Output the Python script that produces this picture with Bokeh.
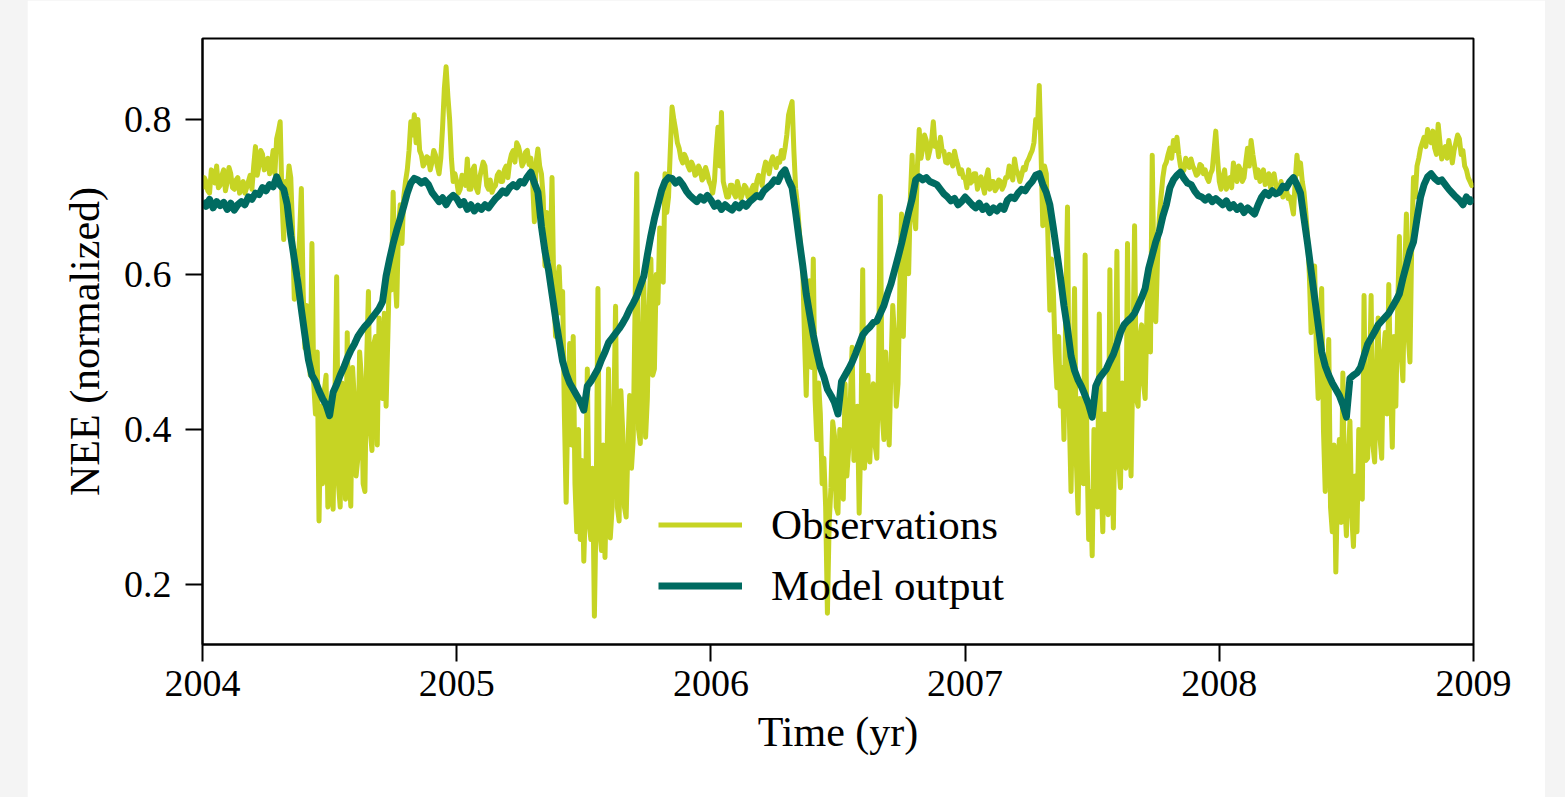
import numpy as np
from bokeh.plotting import figure
from bokeh.models import FixedTicker, Range1d
from bokeh.embed import file_html
from bokeh.resources import INLINE

# ---------------- data ----------------
year_ticks = [2004, 2005, 2006, 2007, 2008, 2009]
year_labels = ["2004", "2005", "2006", "2007", "2008", "2009"]
nee_ticks = [0.2, 0.4, 0.6, 0.8]
nee_labels = ["0.2", "0.4", "0.6", "0.8"]

obs_per_year = 144    # observation samples per year (~2.5 days)
model_per_year = 72   # model samples per year (~5 days)

obs_2004 = [0.71, 0.725, 0.72, 0.708, 0.705, 0.735, 0.73, 0.718, 0.74, 0.712, 0.715, 0.728,
            0.735, 0.708, 0.72, 0.738, 0.73, 0.712, 0.71, 0.722, 0.725, 0.705, 0.715, 0.72,
            0.705, 0.712, 0.72, 0.728, 0.71, 0.74, 0.765, 0.728, 0.74, 0.76, 0.755, 0.735,
            0.745, 0.75, 0.73, 0.742, 0.76, 0.73, 0.775, 0.785, 0.797, 0.70, 0.645, 0.72,
            0.705, 0.74, 0.725, 0.66, 0.568, 0.63, 0.60, 0.65, 0.711, 0.58, 0.505, 0.56,
            0.52, 0.47, 0.64, 0.46, 0.42, 0.50, 0.282, 0.43, 0.33, 0.45, 0.47, 0.30,
            0.311, 0.42, 0.297, 0.44, 0.597, 0.33, 0.30, 0.46, 0.40, 0.31, 0.525, 0.35,
            0.301, 0.48, 0.44, 0.34, 0.363, 0.50, 0.468, 0.33, 0.32, 0.49, 0.578, 0.40,
            0.373, 0.51, 0.52, 0.38, 0.544, 0.47, 0.44, 0.55, 0.43, 0.52, 0.62, 0.58,
            0.706, 0.60, 0.559, 0.66, 0.69, 0.64, 0.70, 0.72, 0.735, 0.76, 0.797, 0.78,
            0.806, 0.77, 0.80, 0.76, 0.754, 0.74, 0.744, 0.752, 0.75, 0.735, 0.745, 0.76,
            0.754, 0.74, 0.73, 0.75, 0.79, 0.84, 0.868, 0.83, 0.80, 0.75, 0.72, 0.73]
obs_2005 = [0.72, 0.705, 0.71, 0.728, 0.725, 0.715, 0.749, 0.71, 0.71, 0.735, 0.74, 0.712,
            0.706, 0.725, 0.735, 0.745, 0.74, 0.715, 0.71, 0.722, 0.706, 0.712, 0.715, 0.728,
            0.732, 0.72, 0.72, 0.735, 0.74, 0.725, 0.745, 0.755, 0.76, 0.745, 0.77, 0.765,
            0.755, 0.74, 0.745, 0.758, 0.76, 0.742, 0.75, 0.72, 0.668, 0.745, 0.762, 0.74,
            0.73, 0.70, 0.611, 0.68, 0.66, 0.62, 0.725, 0.58, 0.52, 0.59, 0.61, 0.55,
            0.578, 0.42, 0.306, 0.44, 0.511, 0.38, 0.52, 0.33, 0.268, 0.40, 0.258, 0.36,
            0.23, 0.31, 0.478, 0.28, 0.258, 0.35, 0.159, 0.30, 0.582, 0.27, 0.244, 0.38,
            0.235, 0.34, 0.478, 0.26, 0.297, 0.42, 0.559, 0.30, 0.282, 0.45, 0.40, 0.30,
            0.287, 0.38, 0.444, 0.35, 0.387, 0.55, 0.73, 0.40, 0.382, 0.50, 0.592, 0.39,
            0.44, 0.56, 0.62, 0.47, 0.478, 0.60, 0.563, 0.66, 0.64, 0.59, 0.73, 0.68,
            0.70, 0.76, 0.816, 0.80, 0.787, 0.77, 0.763, 0.75, 0.744, 0.755, 0.75, 0.74,
            0.735, 0.745, 0.74, 0.728, 0.73, 0.74, 0.735, 0.722, 0.725, 0.738, 0.73, 0.72]
obs_2006 = [0.715, 0.705, 0.72, 0.76, 0.79, 0.74, 0.809, 0.72, 0.71, 0.70, 0.70, 0.715,
            0.715, 0.705, 0.70, 0.72, 0.71, 0.698, 0.705, 0.715, 0.712, 0.70, 0.70, 0.71,
            0.715, 0.70, 0.72, 0.728, 0.725, 0.715, 0.735, 0.745, 0.74, 0.73, 0.745, 0.752,
            0.744, 0.738, 0.75, 0.745, 0.76, 0.75, 0.763, 0.78, 0.806, 0.815, 0.823, 0.76,
            0.711, 0.69, 0.659, 0.63, 0.61, 0.52, 0.444, 0.55, 0.592, 0.48, 0.62, 0.44,
            0.387, 0.46, 0.42, 0.33, 0.363, 0.30, 0.163, 0.28, 0.325, 0.41, 0.392, 0.30,
            0.292, 0.40, 0.363, 0.31, 0.459, 0.34, 0.373, 0.44, 0.506, 0.36, 0.387, 0.43,
            0.292, 0.40, 0.606, 0.35, 0.411, 0.47, 0.358, 0.42, 0.459, 0.38, 0.363, 0.49,
            0.701, 0.42, 0.387, 0.50, 0.44, 0.38, 0.48, 0.56, 0.52, 0.43, 0.459, 0.58,
            0.678, 0.52, 0.62, 0.66, 0.601, 0.70, 0.754, 0.68, 0.659, 0.74, 0.787, 0.75,
            0.763, 0.78, 0.773, 0.75, 0.76, 0.772, 0.797, 0.765, 0.77, 0.752, 0.777, 0.76,
            0.759, 0.745, 0.744, 0.755, 0.75, 0.74, 0.759, 0.748, 0.74, 0.73, 0.735, 0.725]
obs_2007 = [0.725, 0.712, 0.735, 0.718, 0.72, 0.73, 0.73, 0.71, 0.72, 0.726, 0.715, 0.705,
            0.725, 0.735, 0.71, 0.72, 0.72, 0.708, 0.712, 0.722, 0.72, 0.71, 0.715, 0.725,
            0.725, 0.74, 0.735, 0.722, 0.749, 0.735, 0.73, 0.72, 0.728, 0.738, 0.735, 0.745,
            0.749, 0.755, 0.76, 0.77, 0.80, 0.79, 0.844, 0.76, 0.663, 0.74, 0.73, 0.64,
            0.554, 0.62, 0.578, 0.50, 0.454, 0.52, 0.43, 0.48, 0.387, 0.55, 0.687, 0.42,
            0.32, 0.45, 0.582, 0.36, 0.292, 0.44, 0.411, 0.33, 0.625, 0.38, 0.258, 0.32,
            0.237, 0.40, 0.363, 0.30, 0.549, 0.34, 0.268, 0.42, 0.34, 0.29, 0.606, 0.38,
            0.273, 0.44, 0.63, 0.36, 0.325, 0.46, 0.40, 0.35, 0.64, 0.42, 0.34, 0.48,
            0.663, 0.44, 0.43, 0.52, 0.535, 0.46, 0.44, 0.55, 0.592, 0.50, 0.754, 0.60,
            0.539, 0.62, 0.673, 0.70, 0.725, 0.74, 0.745, 0.755, 0.763, 0.75, 0.773, 0.76,
            0.777, 0.755, 0.74, 0.732, 0.735, 0.75, 0.745, 0.738, 0.749, 0.74, 0.735, 0.728,
            0.73, 0.742, 0.74, 0.73, 0.735, 0.725, 0.72, 0.73, 0.735, 0.76, 0.785, 0.75]
obs_2008 = [0.72, 0.71, 0.725, 0.735, 0.71, 0.72, 0.725, 0.712, 0.744, 0.73, 0.72, 0.74,
            0.735, 0.72, 0.725, 0.745, 0.763, 0.74, 0.773, 0.755, 0.74, 0.725, 0.735, 0.72,
            0.725, 0.735, 0.716, 0.722, 0.73, 0.712, 0.725, 0.73, 0.716, 0.705, 0.71, 0.72,
            0.70, 0.712, 0.71, 0.698, 0.70, 0.69, 0.678, 0.72, 0.754, 0.73, 0.744, 0.72,
            0.706, 0.68, 0.649, 0.60, 0.525, 0.58, 0.611, 0.50, 0.44, 0.54, 0.582, 0.40,
            0.32, 0.45, 0.516, 0.30, 0.268, 0.38, 0.216, 0.33, 0.387, 0.28, 0.473, 0.31,
            0.263, 0.36, 0.411, 0.29, 0.249, 0.34, 0.268, 0.40, 0.387, 0.31, 0.573, 0.36,
            0.363, 0.45, 0.573, 0.38, 0.358, 0.47, 0.544, 0.39, 0.363, 0.50, 0.525, 0.42,
            0.587, 0.46, 0.377, 0.52, 0.43, 0.55, 0.649, 0.50, 0.463, 0.60, 0.678, 0.52,
            0.487, 0.64, 0.725, 0.70, 0.74, 0.75, 0.763, 0.77, 0.777, 0.765, 0.787, 0.775,
            0.77, 0.785, 0.763, 0.755, 0.794, 0.77, 0.749, 0.76, 0.765, 0.75, 0.773, 0.76,
            0.744, 0.76, 0.77, 0.78, 0.775, 0.755, 0.76, 0.74, 0.735, 0.725, 0.72, 0.715,
            0.716]

model_2004 = [0.695, 0.688, 0.697, 0.686, 0.694, 0.689, 0.693, 0.684, 0.692, 0.683, 0.690, 0.694,
              0.690, 0.700, 0.697, 0.705, 0.703, 0.712, 0.708, 0.716, 0.713, 0.726, 0.715, 0.710,
              0.690, 0.650, 0.620, 0.590, 0.555, 0.522, 0.490, 0.470, 0.462, 0.450, 0.440, 0.432,
              0.418, 0.448, 0.458, 0.470, 0.480, 0.492, 0.502, 0.510, 0.520, 0.527, 0.533, 0.538,
              0.544, 0.550, 0.556, 0.565, 0.598, 0.620, 0.640, 0.657, 0.672, 0.688, 0.705, 0.718,
              0.724, 0.722, 0.718, 0.721, 0.716, 0.706, 0.700, 0.694, 0.699, 0.690, 0.698, 0.702]
model_2005 = [0.698, 0.690, 0.694, 0.684, 0.690, 0.682, 0.688, 0.684, 0.690, 0.686, 0.692, 0.698,
              0.702, 0.708, 0.705, 0.712, 0.716, 0.713, 0.720, 0.718, 0.726, 0.732, 0.718, 0.706,
              0.662, 0.630, 0.606, 0.575, 0.544, 0.515, 0.488, 0.472, 0.460, 0.452, 0.444, 0.436,
              0.425, 0.456, 0.462, 0.470, 0.478, 0.490, 0.500, 0.512, 0.518, 0.524, 0.530, 0.537,
              0.545, 0.555, 0.563, 0.572, 0.585, 0.598, 0.625, 0.650, 0.672, 0.690, 0.708, 0.720,
              0.725, 0.724, 0.718, 0.722, 0.716, 0.708, 0.702, 0.698, 0.694, 0.700, 0.696, 0.702]
model_2006 = [0.696, 0.688, 0.692, 0.684, 0.690, 0.686, 0.683, 0.690, 0.686, 0.692, 0.688, 0.694,
              0.698, 0.702, 0.700, 0.708, 0.712, 0.716, 0.722, 0.720, 0.730, 0.735, 0.722, 0.712,
              0.680, 0.645, 0.612, 0.575, 0.548, 0.522, 0.500, 0.480, 0.468, 0.452, 0.444, 0.435,
              0.420, 0.462, 0.470, 0.478, 0.487, 0.498, 0.510, 0.522, 0.528, 0.532, 0.538, 0.540,
              0.550, 0.560, 0.575, 0.588, 0.605, 0.622, 0.640, 0.660, 0.680, 0.698, 0.722, 0.726,
              0.722, 0.725, 0.720, 0.718, 0.716, 0.710, 0.704, 0.700, 0.695, 0.698, 0.690, 0.694]
model_2007 = [0.700, 0.695, 0.690, 0.686, 0.692, 0.684, 0.688, 0.680, 0.686, 0.682, 0.688, 0.684,
              0.696, 0.700, 0.698, 0.705, 0.710, 0.708, 0.715, 0.720, 0.728, 0.730, 0.716, 0.706,
              0.690, 0.660, 0.628, 0.596, 0.560, 0.530, 0.495, 0.476, 0.464, 0.455, 0.444, 0.432,
              0.416, 0.456, 0.466, 0.472, 0.478, 0.488, 0.497, 0.510, 0.525, 0.535, 0.540, 0.544,
              0.550, 0.560, 0.570, 0.582, 0.608, 0.625, 0.642, 0.655, 0.675, 0.690, 0.712, 0.722,
              0.728, 0.732, 0.724, 0.718, 0.716, 0.708, 0.702, 0.700, 0.696, 0.700, 0.694, 0.698]
model_2008 = [0.694, 0.690, 0.695, 0.686, 0.690, 0.684, 0.688, 0.680, 0.686, 0.682, 0.678, 0.690,
              0.700, 0.706, 0.702, 0.708, 0.704, 0.706, 0.714, 0.712, 0.720, 0.725, 0.716, 0.705,
              0.672, 0.640, 0.605, 0.570, 0.535, 0.500, 0.482, 0.470, 0.460, 0.452, 0.444, 0.432,
              0.416, 0.466, 0.470, 0.473, 0.480, 0.495, 0.510, 0.518, 0.526, 0.535, 0.540, 0.545,
              0.550, 0.558, 0.566, 0.575, 0.595, 0.612, 0.630, 0.642, 0.672, 0.700, 0.716, 0.726,
              0.730, 0.724, 0.720, 0.722, 0.716, 0.710, 0.705, 0.700, 0.696, 0.690, 0.700, 0.694,
              0.698]

observations = obs_2004 + obs_2005 + obs_2006 + obs_2007 + obs_2008
model_output = model_2004 + model_2005 + model_2006 + model_2007 + model_2008
t_obs = 2004 + np.arange(len(observations)) / obs_per_year
t_model = 2004 + np.arange(len(model_output)) / model_per_year

# ---------------- styling ----------------
FONT = "Liberation Serif"
OBS_COLOR = "#c6d424"
MODEL_COLOR = "#006b61"

p = figure(width=1518, height=797, output_backend="svg", toolbar_location=None,
           x_range=Range1d(2004, 2009), y_range=Range1d(0.1226, 0.9045),
           min_border_left=175, min_border_right=72, min_border_top=38,
           min_border_bottom=153, background_fill_color="white",
           border_fill_color="white")
p.margin = (0, 0, 0, 27)

p.line(t_obs, observations, line_color=OBS_COLOR, line_width=5,
       line_join="round", legend_label="Observations")
p.line(t_model, model_output, line_color=MODEL_COLOR, line_width=7,
       line_join="round", legend_label="Model output")

p.grid.visible = False
p.outline_line_color = "black"
p.outline_line_width = 2

for ax in (p.xaxis[0], p.yaxis[0]):
    ax.axis_line_color = "black"
    ax.axis_line_width = 2
    ax.major_tick_line_color = "black"
    ax.major_tick_line_width = 2
    ax.major_tick_out = 17
    ax.major_tick_in = 0
    ax.minor_tick_line_color = None
    ax.major_label_text_font = FONT
    ax.major_label_text_font_size = "38px"
    ax.major_label_text_color = "black"
    ax.axis_label_text_font = FONT
    ax.axis_label_text_font_size = "42px"
    ax.axis_label_text_font_style = "normal"
    ax.axis_label_text_color = "black"

p.xaxis[0].ticker = FixedTicker(ticks=year_ticks)
p.xaxis[0].major_label_overrides = {t: s for t, s in zip(year_ticks, year_labels)}
p.xaxis[0].axis_label = "Time (yr)"
p.xaxis[0].major_label_standoff = 9
p.xaxis[0].axis_label_standoff = 10

p.yaxis[0].ticker = FixedTicker(ticks=nee_ticks)
p.yaxis[0].major_label_overrides = {t: s for t, s in zip(nee_ticks, nee_labels)}
p.yaxis[0].axis_label = "NEE (normalized)"
p.yaxis[0].major_label_standoff = 14
p.yaxis[0].axis_label_standoff = 13

lg = p.legend[0]
lg.location = (456, 28)
lg.border_line_alpha = 0
lg.background_fill_alpha = 0
lg.padding = 0
lg.margin = 0
lg.spacing = 0
lg.glyph_width = 84
lg.glyph_height = 61
lg.label_height = 61
lg.label_standoff = 29
lg.label_text_font = FONT
lg.label_text_font_size = "43px"
lg.label_text_color = "black"

html = file_html(p, INLINE, title="NEE")
html = html.replace("</head>",
                    "<style>html,body{margin:0;padding:0;background:#f4f4f4;overflow:hidden}</style></head>", 1)
open("out.html", "w").write(html)
